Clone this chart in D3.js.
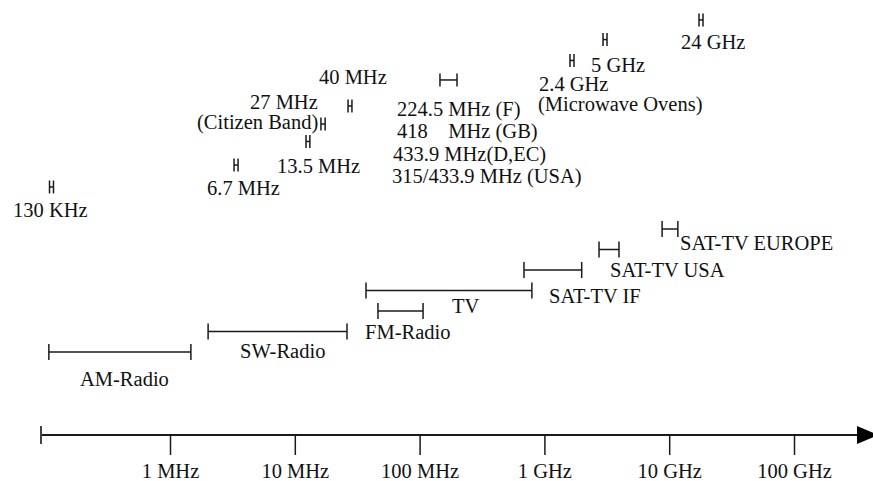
<!DOCTYPE html>
<html><head><meta charset="utf-8">
<script src="https://cdn.jsdelivr.net/npm/d3@7"></script>
<style>
html,body{margin:0;padding:0;background:#fff;overflow:hidden}
text{font-family:"Liberation Serif","Times New Roman",serif;font-size:20.5px;fill:#111;white-space:pre}
</style>
</head><body><svg id="c" width="873" height="481"></svg>
<script>
// ---------- data (frequencies in MHz) ----------
const tickValues = [1, 10, 100, 1000, 10000, 100000];
const tickLabels = ["1 MHz", "10 MHz", "100 MHz", "1 GHz", "10 GHz", "100 GHz"];

const bandNames = ["AM-Radio", "SW-Radio", "FM-Radio", "TV", "SAT-TV IF", "SAT-TV USA", "SAT-TV EUROPE"];
const bandLow   = [0.107, 2.02, 46.4, 37.2, 686, 2740, 8770];
const bandHigh  = [1.47, 26.2, 106.6, 794, 1990, 3960, 11730];

const ismNames = ["130 KHz", "6.7 MHz", "13.5 MHz", "27 MHz", "40 MHz", "224.5 MHz", "2.4 GHz", "5 GHz", "24 GHz"];
const ismLow   = [0.1083, 3.26, 12.3, 16.2, 26.7, 145.6, 1603, 2949, 17330];
const ismHigh  = [0.1165, 3.51, 13.2, 17.5, 28.7, 199.4, 1726, 3175, 18660];
const ismLabels = [
  ["130 KHz"], ["6.7 MHz"], ["13.5 MHz"], ["27 MHz", "(Citizen Band)"], ["40 MHz"],
  ["224.5 MHz (F)", "418    MHz (GB)", "433.9 MHz(D,EC)", "315/433.9 MHz (USA)"],
  ["2.4 GHz", "(Microwave Ovens)"], ["5 GHz"], ["24 GHz"]
];

// ---------- layout ----------
const bandRow = [0, 1, 2, 3, 4, 5, 6];
const ismRow  = [8.05, 9.12, 10.27, 11.12, 12.0, 13.27, 14.22, 15.24, 16.2];
const bandLabelPos = [[80,386],[240,358],[365,339],[452,313],[549,303],[610,277],[680,250]];
const ismLabelPos = [
  [[13,217]], [[207,195]], [[277,173]], [[250,109],[197,129]], [[319,84]],
  [[397,116],[397,138],[393,161],[392,183]],
  [[539,91],[538,111]], [[591,72]], [[681,49]]
];

const svg = d3.select("#c");
const x = d3.scaleLog().domain([1, 100000]).range([170, 794]);
const y = d3.scaleLinear().domain([0, 1]).range([352, 331.5]);
const axisY = 435;
const ink = "#1a1a1a";

// ---------- axis ----------
const xStart = x(0.0925);
svg.append("line").attr("x1", xStart).attr("x2", 860).attr("y1", axisY).attr("y2", axisY)
  .attr("stroke", ink).attr("stroke-width", 2);
svg.append("line").attr("x1", xStart).attr("x2", xStart).attr("y1", axisY - 9).attr("y2", axisY + 9)
  .attr("stroke", "#444").attr("stroke-width", 2);
svg.append("path").attr("d", `M857,${axisY-9}L878,${axisY}L857,${axisY+9}Z`).attr("fill", "#000");

const axis = d3.axisBottom(x).tickValues(tickValues).tickSize(20).tickFormat((d, i) => tickLabels[i]);
const gAxis = svg.append("g").attr("transform", `translate(0,${axisY})`).call(axis);
gAxis.select(".domain").remove();
gAxis.selectAll(".tick line").attr("stroke", ink).attr("stroke-width", 1.5);
gAxis.selectAll(".tick text").attr("y", 43).attr("dy", null)
  .style("font-family", '"Liberation Serif","Times New Roman",serif').style("font-size", "20.5px").attr("fill", "#111");

// ---------- range bars ----------
function hbar(g, lo, hi, yc, h) {
  g.append("line").attr("x1", x(lo)).attr("x2", x(hi)).attr("y1", yc).attr("y2", yc)
    .attr("stroke", ink).attr("stroke-width", 1.5);
  [lo, hi].forEach(f => g.append("line").attr("x1", x(f)).attr("x2", x(f))
    .attr("y1", yc - h).attr("y2", yc + h).attr("stroke", ink).attr("stroke-width", 1.5));
}

const gb = svg.append("g");
bandNames.forEach((n, i) => {
  hbar(gb, bandLow[i], bandHigh[i], y(bandRow[i]), 8);
  gb.append("text").attr("x", bandLabelPos[i][0]).attr("y", bandLabelPos[i][1]).text(n);
});

const gi = svg.append("g");
ismNames.forEach((n, i) => {
  hbar(gi, ismLow[i], ismHigh[i], y(ismRow[i]), 6.5);
  ismLabels[i].forEach((line, j) => {
    gi.append("text").attr("x", ismLabelPos[i][j][0]).attr("y", ismLabelPos[i][j][1]).text(line);
  });
});
</script>
</body></html>
